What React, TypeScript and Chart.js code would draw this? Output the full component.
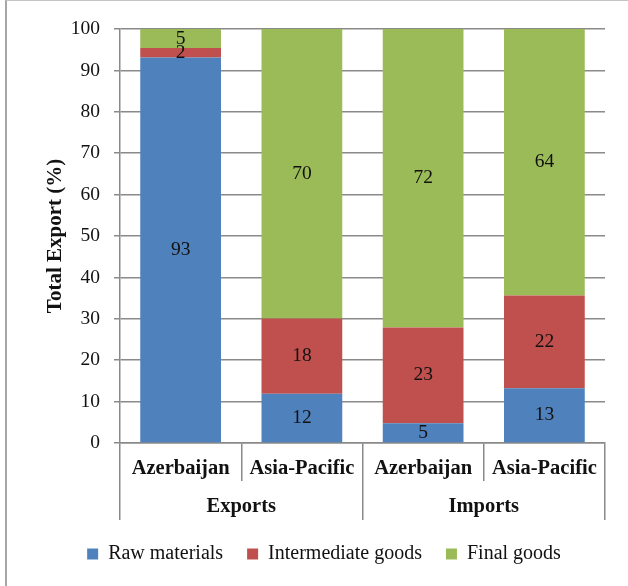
import React, { useEffect, useRef } from 'react';
import { Chart, registerables } from 'chart.js';

Chart.register(...registerables);

const categories = ['Azerbaijan', 'Asia-Pacific', 'Azerbaijan', 'Asia-Pacific'];
const groups = ['Exports', 'Imports'];
const seriesNames = ['Raw materials', 'Intermediate goods', 'Final goods'];
const rawMaterials = [93.1, 11.9, 4.8, 13.2];
const intermediateGoods = [2.3, 18.2, 23.1, 22.4];
const finalGoods = [4.6, 69.9, 72.1, 64.4];
const yTicks = { min: 0, max: 100, step: 10 };
const yTitle = 'Total Export (%)';

const FONT = '"Liberation Serif", "Times New Roman", serif';
const GRID = '#8a8a8a';

const valueLabels = {
  id: 'valueLabels',
  afterDatasetsDraw(chart: any) {
    const ctx = chart.ctx;
    ctx.save();
    ctx.font = `19.5px ${FONT}`;
    ctx.fillStyle = '#111';
    ctx.textAlign = 'center';
    ctx.textBaseline = 'middle';
    chart.data.datasets.forEach((ds: any, i: number) => {
      const meta = chart.getDatasetMeta(i);
      meta.data.forEach((el: any, j: number) => {
        const v = ds.data[j];
        const p = el.getProps(['x', 'y', 'base'], true);
        ctx.fillText(String(Math.round(v)), p.x, (p.y + p.base) / 2);
      });
    });
    ctx.restore();
  },
};

export default function App() {
  const ref = useRef<HTMLCanvasElement | null>(null);

  useEffect(() => {
    if (!ref.current) return;
    const chart = new Chart(ref.current, {
      type: 'bar',
      data: {
        labels: categories,
        datasets: [
          { label: seriesNames[0], data: rawMaterials, backgroundColor: '#4F81BD' },
          { label: seriesNames[1], data: intermediateGoods, backgroundColor: '#C0504D' },
          { label: seriesNames[2], data: finalGoods, backgroundColor: '#9BBB59' },
        ],
      },
      options: {
        responsive: false,
        animation: false,
        devicePixelRatio: 1,
        datasets: { bar: { categoryPercentage: 1, barPercentage: 0.666, borderWidth: 0 } },
        layout: { padding: { left: 43, right: 23, top: 29, bottom: 12 } },
        plugins: {
          tooltip: { enabled: false },
          legend: {
            position: 'bottom',
            labels: {
              boxWidth: 11,
              boxHeight: 11,
              padding: 24,
              color: '#111',
              font: { family: FONT, size: 20 },
            },
          },
        },
        scales: {
          x: {
            type: 'category',
            stacked: true,
            offset: true,
            grid: {
              display: true,
              offset: true,
              drawOnChartArea: false,
              drawTicks: true,
              tickLength: 38,
              color: GRID,
              lineWidth: 1.5,
            },
            border: { display: true, color: GRID, width: 1.5 },
            ticks: {
              autoSkip: false,
              maxRotation: 0,
              padding: -25,
              color: '#111',
              font: { family: FONT, size: 20.5, weight: 'bold' },
            },
            afterFit: (s: any) => { s.height = 38; },
          },
          x2: {
            type: 'category',
            labels: groups,
            position: 'bottom',
            offset: true,
            grid: {
              display: true,
              offset: true,
              drawOnChartArea: false,
              drawTicks: true,
              tickLength: 39,
              color: GRID,
              lineWidth: 1.5,
            },
            border: { display: false },
            ticks: {
              autoSkip: false,
              maxRotation: 0,
              padding: -26,
              color: '#111',
              font: { family: FONT, size: 20.5, weight: 'bold' },
            },
            afterFit: (s: any) => { s.height = 39; },
          },
          y: {
            stacked: true,
            min: yTicks.min,
            max: yTicks.max,
            grid: {
              color: GRID,
              lineWidth: 1.5,
              drawTicks: true,
              tickLength: 6,
            },
            border: { display: true, color: GRID, width: 1.5 },
            ticks: {
              stepSize: yTicks.step,
              padding: 14,
              color: '#111',
              font: { family: FONT, size: 19.5 },
            },
            title: {
              display: true,
              text: yTitle,
              color: '#111',
              padding: { top: 0, bottom: 0 },
              font: { family: FONT, size: 21, weight: 'bold' },
            },
            afterFit: (s: any) => { s.width = 77; },
          },
        },
      },
      plugins: [valueLabels],
    } as any);
    return () => chart.destroy();
  }, []);

  return (
    <div style={{ position: 'fixed', left: 0, top: 0, width: 628, height: 586, background: '#fff', overflow: 'hidden' }}>
      <canvas ref={ref} width={628} height={586} style={{ position: 'absolute', left: 0, top: 0 }} />
      <div
        style={{
          position: 'absolute',
          left: 5,
          top: 0,
          width: 700,
          height: 700,
          borderLeft: '2px solid #a6a6a6',
          borderTop: '1px solid #c4c4c4',
          pointerEvents: 'none',
        }}
      />
    </div>
  );
}
